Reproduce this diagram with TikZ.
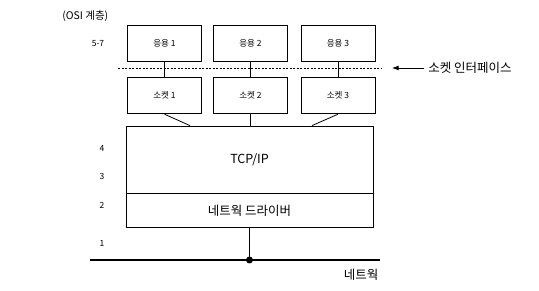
\documentclass[tikz,border=0pt]{standalone}
\usepackage{fontspec}
\setmainfont{Noto Sans CJK KR}
\usetikzlibrary{arrows.meta, positioning, calc}

\begin{document}
\begin{tikzpicture}[
  x=1pt, y=-1pt, >=Latex, line width=0.8pt,
  box/.style   = {draw, minimum width=74pt, minimum height=36pt, inner sep=0pt, font=\fontsize{8.5}{10}\selectfont},
  layer/.style = {font=\fontsize{8.5}{10}\selectfont, inner sep=0pt},
  big/.style   = {font=\fontsize{12.5}{14}\selectfont, inner sep=0pt},
]
  \useasboundingbox (0,0) rectangle (539,291);

  % Application boxes
  \node[box] (app1) at (164.5,43) {응용 1};
  \node[box] (app2) at (250.5,43) {응용 2};
  \node[box] (app3) at (338,43)   {응용 3};

  % Socket boxes
  \node[box, below=16pt of app1] (sock1) {소켓 1};
  \node[box, below=16pt of app2] (sock2) {소켓 2};
  \node[box, below=16pt of app3] (sock3) {소켓 3};

  % Protocol stack
  \node[draw, minimum width=247pt, minimum height=67pt, inner sep=0pt,
        font=\fontsize{12.5}{14}\selectfont] (tcp) at (249.5,159.5) {TCP/IP};
  \node[draw, minimum width=247pt, minimum height=34pt, inner sep=0pt,
        below=0pt of tcp, big] (drv) {네트웍 드라이버};

  % Network line
  \coordinate (netL) at (90,260);
  \coordinate (netR) at (380,260);
  \draw[line width=2.5pt] (netL) -- (netR);
  \coordinate (tap) at (drv.south |- netL);
  \draw (drv.south) -- (tap);
  \fill (tap) circle (3.5pt);
  \node[big] (net) at (361,275) {네트웍};

  % Socket interface
  \coordinate (ifL) at (118,68);
  \coordinate (ifR) at (382,68);
  \draw[dashed, line width=0.6pt, dash pattern=on 2pt off 1.5pt] (ifL) -- (ifR);
  \node[big, anchor=west] (iflbl) at (428,68) {소켓 인터페이스};
  \draw[->] ($(iflbl.west)+(-4,0)$) -- ++(-32,0);

  % Connectors
  \draw (app1) -- (sock1);
  \draw (app2) -- (sock2);
  \draw (app3) -- (sock3);
  \draw (sock1.south) -- (tcp.north -| 190,0);
  \draw (sock2.south) -- (tcp.north -| sock2.south);
  \draw (sock3.south) -- (tcp.north -| 312,0);

  % OSI layers
  \node[layer, anchor=west] (osi) at (62,16) {\fontsize{10.5}{12}\selectfont(OSI 계층)};
  \node[layer] (l57) at (98,44)  {5-7};
  \node[layer] (l4)  at (102,148) {4};
  \node[layer] (l3)  at (102,176) {3};
  \node[layer] (l2)  at (102,205) {2};
  \node[layer] (l1)  at (102,243) {1};
\end{tikzpicture}
\end{document}
